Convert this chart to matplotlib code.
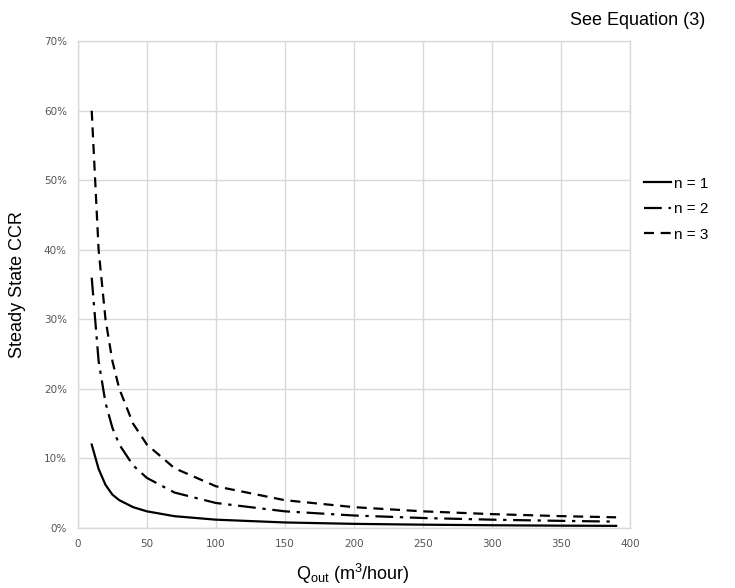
import matplotlib
matplotlib.use("Agg")
import matplotlib.pyplot as plt
from matplotlib.ticker import FuncFormatter

q_out = [10, 15, 20, 25, 30, 40, 50, 70, 100, 150, 200, 250, 300, 350, 390]
ccr_n1 = [12.0, 8.5, 6.2, 4.8, 4.0, 3.0, 2.4, 1.7, 1.2, 0.8, 0.6, 0.48, 0.4, 0.34, 0.31]
ccr_n2 = [36.0, 24.0, 18.0, 14.4, 12.0, 9.0, 7.2, 5.1, 3.6, 2.4, 1.8, 1.44, 1.2, 1.03, 0.92]
ccr_n3 = [60.0, 40.0, 30.0, 24.0, 20.0, 15.0, 12.0, 8.6, 6.0, 4.0, 3.0, 2.4, 2.0, 1.71, 1.54]
labels = ["n = 1", "n = 2", "n = 3"]
x_ticks = [0, 50, 100, 150, 200, 250, 300, 350, 400]
y_ticks = [0, 10, 20, 30, 40, 50, 60, 70]

fig = plt.figure(figsize=(7.35, 5.88), dpi=100)
ax = fig.add_axes([0.106, 0.102, 0.751, 0.828])

ax.plot(q_out, ccr_n1, color="black", lw=1.6, linestyle="-", label=labels[0])
ax.plot(q_out, ccr_n2, color="black", lw=1.6, linestyle=(0, (8, 3, 1.5, 3)), label=labels[1])
ax.plot(q_out, ccr_n3, color="black", lw=1.6, linestyle=(0, (4.5, 3)), label=labels[2])

ax.set_xlim(0, 400)
ax.set_ylim(0, 70)
ax.set_xticks(x_ticks)
ax.set_yticks(y_ticks)
ax.yaxis.set_major_formatter(FuncFormatter(lambda v, p: f"{int(v)}%"))
ax.tick_params(axis="both", length=0, labelsize=7.5, colors="#555555", pad=8)
ax.grid(True, color="#d9d9d9", lw=1)
ax.set_axisbelow(True)
for s in ax.spines.values():
    s.set_color("#d9d9d9")
    s.set_linewidth(1)

fig.text(18 / 735, 1 - 285 / 588, "Steady State CCR", rotation=90, ha="center", va="center",
         fontsize=13, family="Liberation Sans")
fig.text(353 / 735, 1 - 574 / 588, r"Q$_{\mathregular{out}}$ (m$^{\mathregular{3}}$/hour)",
         ha="center", va="center", fontsize=13, family="Liberation Sans")
fig.text(0.96, 0.965, "See Equation (3)", ha="right", va="center", fontsize=13, family="Liberation Sans")

leg = ax.legend(loc="center left", bbox_to_anchor=(1.0, 0.655), frameon=False,
                handlelength=1.8, handletextpad=0.2, labelspacing=0.75,
                prop={"family": "Liberation Sans", "size": 11})

fig.savefig("out.png", dpi=100)
